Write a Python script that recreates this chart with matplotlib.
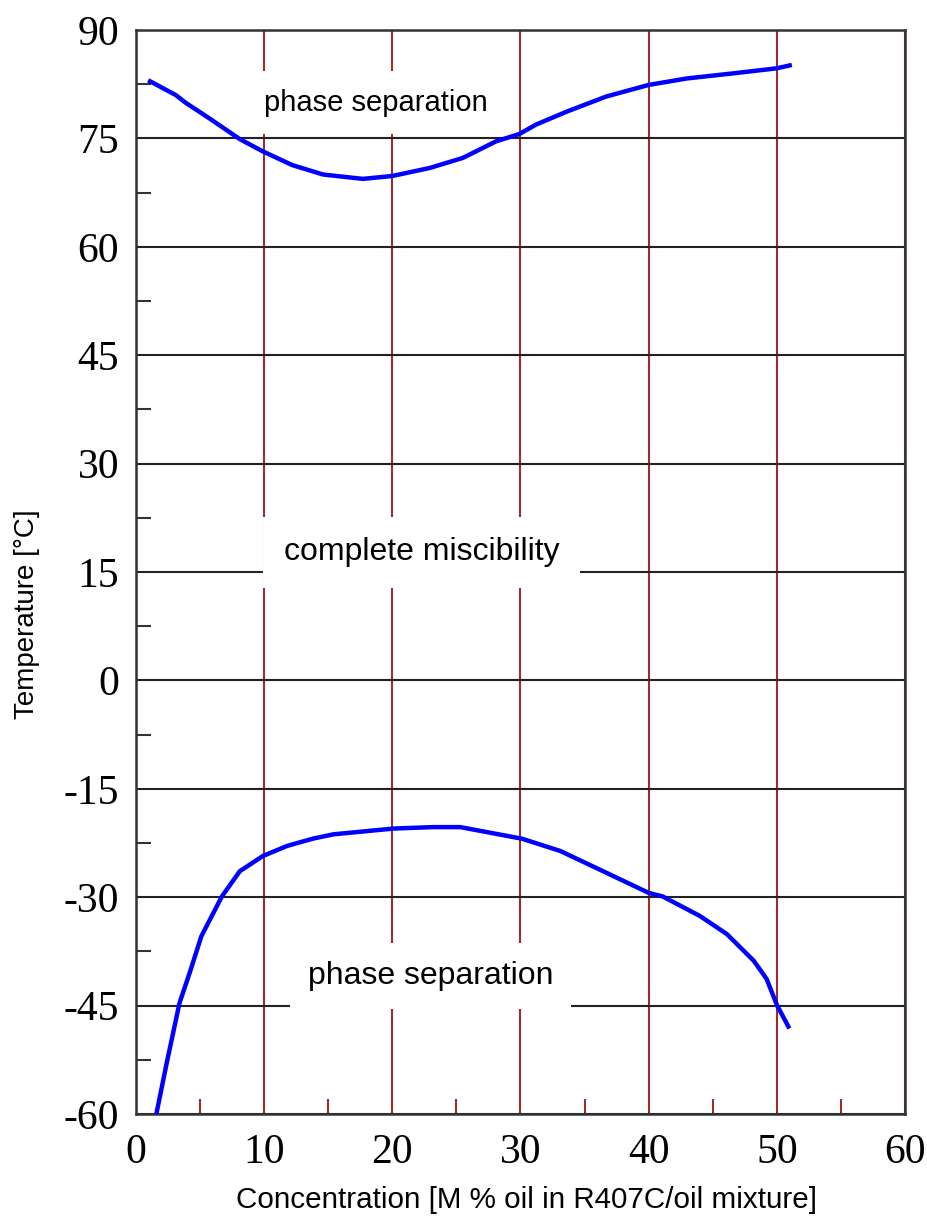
import matplotlib
matplotlib.use("Agg")
import matplotlib.pyplot as plt
from matplotlib.ticker import MultipleLocator, FuncFormatter

# upper miscibility limit
upper_conc = [1.1, 3.1, 3.9, 5.7, 8.1, 9.9, 12.2, 14.6, 17.7, 20.0, 22.9, 25.5, 28.1, 29.9,
              31.2, 33.6, 36.7, 40.0, 43.0, 46.6, 50.0, 51.0]
upper_temp = [82.9, 81.0, 79.9, 77.8, 74.9, 73.2, 71.3, 70.0, 69.4, 69.8, 70.9, 72.3, 74.6, 75.6,
              76.9, 78.7, 80.8, 82.4, 83.3, 84.0, 84.7, 85.1]

# lower miscibility limit
lower_conc = [1.6, 2.4, 3.4, 4.2, 5.1, 6.7, 8.1, 9.9, 11.8, 13.8, 15.4, 20.1, 23.2, 25.3,
              30.1, 33.1, 36.2, 40.0, 41.1, 44.0, 46.1, 48.2, 49.2, 50.0, 50.9]
lower_temp = [-59.9, -52.9, -44.6, -40.4, -35.4, -29.9, -26.4, -24.3, -22.9, -21.9, -21.3,
              -20.5, -20.3, -20.3, -21.9, -23.6, -26.2, -29.4, -29.9, -32.6, -35.1, -38.8,
              -41.3, -44.9, -47.9]

x_ticks = [0, 10, 20, 30, 40, 50, 60]
y_ticks = [-60, -45, -30, -15, 0, 15, 30, 45, 60, 75, 90]

fig = plt.figure(figsize=(9.28, 12.16), dpi=100)
ax = fig.add_axes([136 / 928, 1 - 1114 / 1216, (905 - 136) / 928, (1114 - 30) / 1216])

ax.set_xlim(0, 60)
ax.set_ylim(-60, 90)
ax.set_xticks(x_ticks)
ax.set_yticks(y_ticks)
ax.xaxis.set_minor_locator(MultipleLocator(5))
ax.yaxis.set_minor_locator(MultipleLocator(7.5))
ax.yaxis.set_major_formatter(FuncFormatter(lambda v, p: "%d" % v))

serif = "Liberation Serif"
for lab in ax.get_xticklabels() + ax.get_yticklabels():
    lab.set_fontfamily(serif)
    lab.set_fontsize(30)

ax.tick_params(which="major", length=0, pad=12)
ax.tick_params(axis="x", which="major", pad=14)
ax.tick_params(which="minor", direction="in", length=11, width=1.5)
ax.tick_params(axis="x", which="minor", color="#9b2c2c")
ax.tick_params(axis="y", which="minor", color="#333333")

for sp in ax.spines.values():
    sp.set_color("#333333")
    sp.set_linewidth(1.8)

ax.set_axisbelow(True)
ax.grid(axis="x", which="major", color="#9b2c2c", linewidth=1.5)
ax.grid(axis="y", which="major", color="#222222", linewidth=1.5)

ax.plot(upper_conc, upper_temp, color="#0000ff", linewidth=3.2, zorder=5,
        solid_joinstyle="round")
ax.plot(lower_conc, lower_temp, color="#0000ff", linewidth=3.2, zorder=5,
        solid_joinstyle="round")

box = dict(boxstyle="square,pad=0.6", facecolor="white", edgecolor="none")
ax.text(18.7, 79.9, "phase separation", fontsize=21, fontfamily="Liberation Sans",
        ha="center", va="center", bbox=box, zorder=3)
ax.text(22.3, 17.7, "complete miscibility", fontsize=23, fontfamily="Liberation Sans",
        ha="center", va="center", bbox=dict(boxstyle="square,pad=0.65", facecolor="white",
                                            edgecolor="none"), zorder=3)
ax.text(23.0, -40.9, "phase separation", fontsize=23, fontfamily="Liberation Sans",
        ha="center", va="center", bbox=dict(boxstyle="square,pad=0.55", facecolor="white",
                                            edgecolor="none"), zorder=3)

fig.text(527 / 928, 1 - 1200 / 1216, "Concentration [M % oil in R407C/oil mixture]",
         fontsize=21.3, fontfamily="Liberation Sans", ha="center", va="center")
fig.text(27 / 928, 1 - 614 / 1216, "Temperature [°C]", fontsize=20,
         fontfamily="Liberation Sans", ha="center", va="center", rotation=90)

fig.savefig("out.png", dpi=100, facecolor="white")
